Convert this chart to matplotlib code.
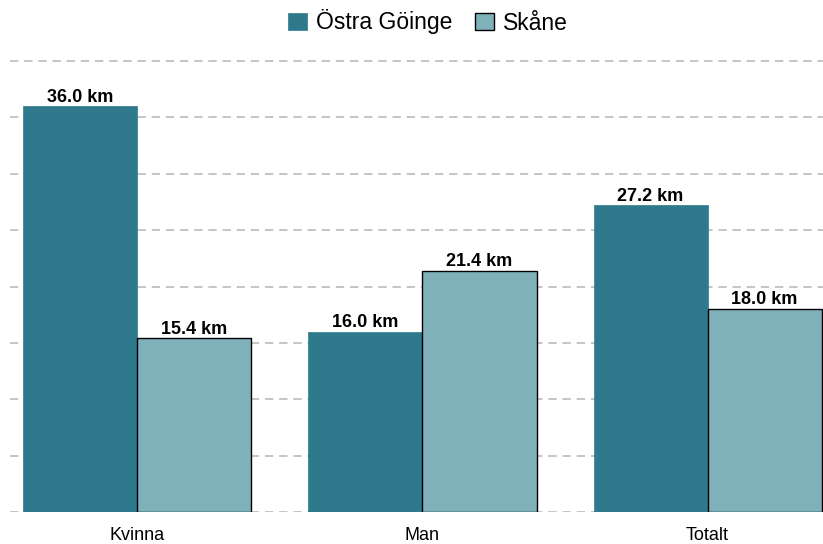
import matplotlib
matplotlib.use("Agg")
import matplotlib.pyplot as plt
import numpy as np
from matplotlib.patches import Patch

categories = ["Kvinna", "Man", "Totalt"]
series_names = ["Östra Göinge", "Skåne"]
ostra = [36.0, 16.0, 27.2]
skane = [15.4, 21.4, 18.0]
yticks = [0, 5, 10, 15, 20, 25, 30, 35, 40]

c_dark = "#2E7A8C"
c_light = "#7FB1BB"

plt.rcParams['font.family'] = ['Liberation Sans', 'DejaVu Sans']

fig = plt.figure(figsize=(8.23, 5.44), dpi=100)
ax = fig.add_axes([10/823, 32/544, 813/823, (512-52)/544])

x = np.arange(len(categories))
w = 0.4
b1 = ax.bar(x - w/2, ostra, w, color=c_dark, edgecolor=c_dark, linewidth=0.5, zorder=3)
b2 = ax.bar(x + w/2, skane, w, color=c_light, edgecolor="black", linewidth=1.0, zorder=3)

for bars, vals in ((b1, ostra), (b2, skane)):
    for r, v in zip(bars, vals):
        ax.text(r.get_x() + r.get_width()/2, v + 0.05, f"{v:.1f} km",
                ha="center", va="bottom", fontsize=13, fontweight="bold", zorder=4)

ax.set_xlim(-0.447, 2.405)
ax.set_ylim(0, 40.8)
ax.set_yticks(yticks)
ax.set_yticklabels([])
ax.tick_params(axis='y', length=0)
ax.set_xticks(x)
ax.set_xticklabels(categories, fontsize=13)
ax.tick_params(axis='x', length=0, pad=11)
ax.grid(axis='y', color="#BBBBBB", linestyle=(0, (5, 3.5)), linewidth=1.2, zorder=0)
for s in ax.spines.values():
    s.set_visible(False)

handles = [Patch(facecolor=c_dark, edgecolor=c_dark, linewidth=0.5),
           Patch(facecolor=c_light, edgecolor="black", linewidth=1.0)]
fig.legend(handles, series_names, loc="center", bbox_to_anchor=(0.52, 1 - 22/544),
           ncol=2, frameon=False, fontsize=16.5, handlelength=0.8, handleheight=0.8,
           handletextpad=0.4, columnspacing=1.0)

fig.savefig("out.png", dpi=100)
